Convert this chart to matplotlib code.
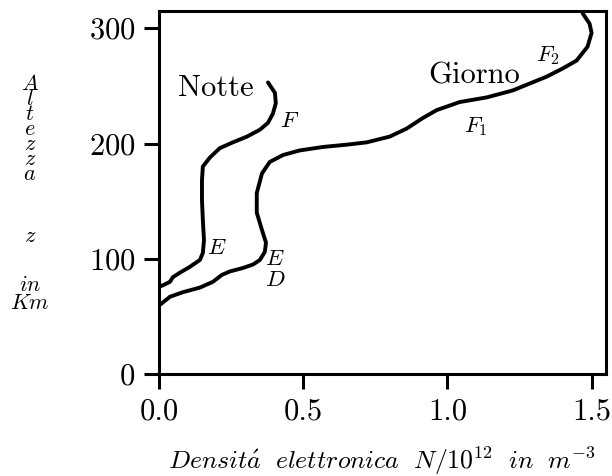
import matplotlib
matplotlib.use("Agg")
import matplotlib.pyplot as plt

plt.rcParams["font.family"] = "serif"
plt.rcParams["font.serif"] = ["cmr10"]
plt.rcParams["mathtext.fontset"] = "cm"
plt.rcParams["axes.formatter.use_mathtext"] = True

# electron density profiles (N/1e12 per m^3) vs altitude (km)
notte_n = [0.003, 0.014, 0.038, 0.048, 0.073, 0.107, 0.142, 0.152, 0.156, 0.152,
           0.149, 0.149, 0.149, 0.152, 0.177, 0.211, 0.256, 0.305, 0.350, 0.378,
           0.395, 0.405, 0.402, 0.378]
notte_h = [76, 77, 80, 84, 88, 93, 99, 105, 116, 134,
           151, 157, 168, 180, 188, 196, 201, 206, 212, 218,
           226, 235, 244, 253]

giorno_n = [0.003, 0.038, 0.083, 0.142, 0.187, 0.218, 0.246, 0.291, 0.326, 0.350,
            0.367, 0.371, 0.357, 0.339, 0.339, 0.357, 0.384, 0.430, 0.488, 0.568,
            0.651, 0.720, 0.800, 0.859, 0.914, 0.963, 1.043, 1.136, 1.226, 1.285,
            1.344, 1.399, 1.448, 1.486, 1.500, 1.493, 1.469]
giorno_h = [60, 67, 71, 75, 80, 86, 89, 92, 95, 99,
            106, 114, 125, 140, 157, 174, 184, 190, 194, 197,
            199, 201, 206, 213, 222, 229, 236, 240, 246, 252,
            258, 265, 272, 284, 296, 304, 313]

# layer labels: (text, x, y)
layers = [(r"$F$", 0.454, 219), (r"$E$", 0.201, 109), (r"$E$", 0.402, 100),
          (r"$D$", 0.402, 81), (r"$F_1$", 1.098, 215), (r"$F_2$", 1.347, 276)]

xticks = [0.0, 0.5, 1.0, 1.5]
yticks = [0, 100, 200, 300]

fig = plt.figure(figsize=(6.12, 4.76), dpi=100)
ax = fig.add_axes([0.2598, 0.2143, 0.7304, 0.7626])

ax.plot(notte_n, notte_h, color="black", lw=2.8, solid_joinstyle="round",
        solid_capstyle="round")
ax.plot(giorno_n, giorno_h, color="black", lw=2.8, solid_joinstyle="round",
        solid_capstyle="round")

ax.text(0.066, 241, "Notte", fontsize=22, ha="left", va="baseline")
ax.text(0.932, 252, "Giorno", fontsize=22, ha="left", va="baseline")
for txt, x, y in layers:
    ax.text(x, y, txt, fontsize=16.5, ha="center", va="center")

ax.set_xlim(0, 1.55)
ax.set_ylim(0, 315)
ax.set_xticks(xticks)
ax.set_yticks(yticks)
ax.xaxis.set_major_formatter(matplotlib.ticker.FormatStrFormatter("%.1f"))
ax.tick_params(direction="out", length=11, width=2.2, labelsize=22, pad=6)
for s in ax.spines.values():
    s.set_linewidth(2.2)

fig.text(382 / 612, 1 - 469 / 476,
         r"$Densit\acute{a}\ \ elettronica\ \ N/10^{12}\ \ in\ \ m^{-3}$",
         fontsize=18.5, ha="center", va="baseline")

# vertical axis title, letters stacked one per line
word = "\n".join("$" + c + "$" for c in "Altezza")
fig.text(30 / 612, 1 - 74 / 476, word, fontsize=16, ha="center", va="top",
         linespacing=0.7)
fig.text(30 / 612, 1 - 242 / 476, "$z$", fontsize=16, ha="center",
         va="baseline")
fig.text(30 / 612, 1 - 275 / 476, "$in$\n$Km$", fontsize=16, ha="center",
         va="top", linespacing=0.92)

fig.savefig("out.png", dpi=100)
